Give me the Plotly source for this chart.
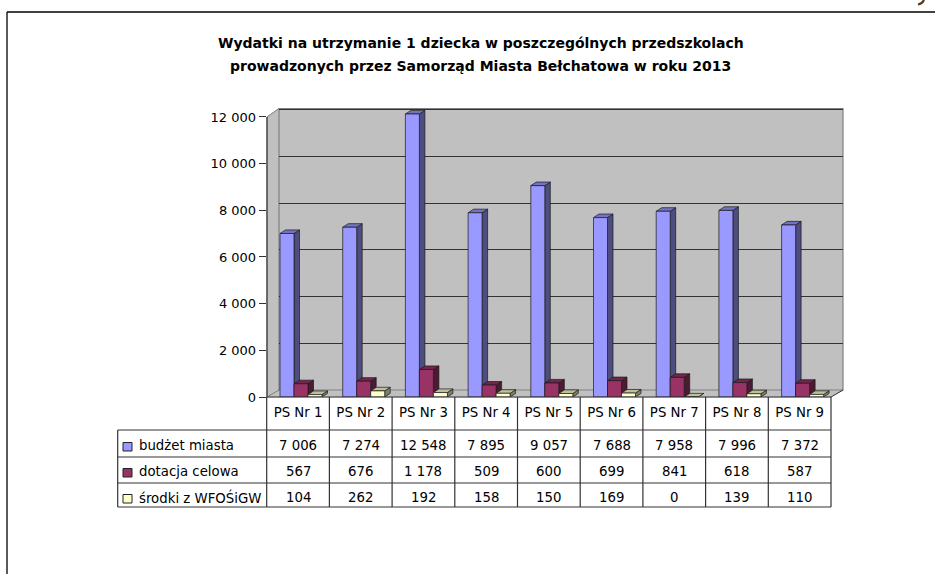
import plotly.graph_objects as go

W, H = 935, 574
categories = ["PS Nr 1", "PS Nr 2", "PS Nr 3", "PS Nr 4", "PS Nr 5", "PS Nr 6", "PS Nr 7", "PS Nr 8", "PS Nr 9"]
budzet = [7006, 7274, 12548, 7895, 9057, 7688, 7958, 7996, 7372]
dotacja = [567, 676, 1178, 509, 600, 699, 841, 618, 587]
srodki = [104, 262, 192, 158, 150, 169, 0, 139, 110]
series_names = ["budżet miasta", "dotacja celowa", "środki z WFOŚiGW"]
tick_values = [0, 2000, 4000, 6000, 8000, 10000, 12000]
title_lines = ["Wydatki na utrzymanie 1 dziecka w poszczególnych przedszkolach",
               "prowadzonych przez Samorząd Miasta Bełchatowa w roku 2013"]

FONT = "DejaVu Sans"
series = [budzet, dotacja, srodki]
front = ["#9999ff", "#993366", "#ffffcc"]
side = ["#4d4d80", "#4d1a33", "#808066"]
top = ["#7373bf", "#73264d", "#bfbf99"]

def X(p): return p / W
def Y(p): return 1 - p / H

L, R, B, T = 266.7, 831.0, 397.0, 108.0
PX_PER_UNIT = 46.67 / 2000
YMAX = (B - T) / PX_PER_UNIT
CLIP = (B - 114) / PX_PER_UNIT
CATW = (R - L) / 9
BW = 14.0 / CATW
OFF0 = (280 - (L + CATW / 2)) / CATW
DX = 5.5 / CATW
DY = 3.6 / PX_PER_UNIT

def fmt(v):
    return f"{v:,}".replace(",", " ")

shapes = []
def poly(pts, fill, line=None, lw=1, layer="below"):
    d = "M" + " L".join(f"{X(a):.5f},{Y(b):.5f}" for a, b in pts) + " Z"
    shapes.append(dict(type="path", path=d, xref="paper", yref="paper", fillcolor=fill,
                       line=dict(color=line or fill, width=lw), layer=layer))
def seg(x0, y0, x1, y1, color="#333333", w=1.2, layer="above"):
    shapes.append(dict(type="line", x0=X(x0), x1=X(x1), y0=Y(y0), y1=Y(y1), xref="paper", yref="paper",
                       line=dict(color=color, width=w), layer=layer))

poly([(267, 117), (279, 108.5), (279, 390), (267, 397)], "#c0c0c0")
poly([(267, 397), (279, 390), (843, 390), (831, 397)], "#c0c0c0")
poly([(279, 108.5), (843, 108.5), (843, 390), (279, 390)], "#c0c0c0", "#808080", 1.2)
seg(267, 117, 279, 108.5, "#808080", 1)
seg(267, 117, 267, 397, "#333333", 1.3)
seg(831, 397, 843, 390, "#333333", 1)
seg(267, 397, 279, 390, "#808080", 1)

for s, vals in enumerate(series):
    for i, v in enumerate(vals):
        h = min(v, CLIP)
        x0 = i + OFF0 + s * BW
        x1 = x0 + BW
        shapes.append(dict(type="path", xref="x2", yref="y2", layer="between", fillcolor=side[s],
                           line=dict(color="#1a1a1a", width=0.7),
                           path=f"M{x1},0 L{x1+DX},{DY} L{x1+DX},{h+DY} L{x1},{h} Z"))
        shapes.append(dict(type="path", xref="x2", yref="y2", layer="between", fillcolor=top[s],
                           line=dict(color="#1a1a1a", width=0.7),
                           path=f"M{x0},{h} L{x0+DX},{h+DY} L{x1+DX},{h+DY} L{x1},{h} Z"))

TL, RH = 117.7, [397, 430, 457, 483, 507]
for yy in RH[1:]:
    seg(TL, yy, R, yy)
seg(L, 397, R, 397)
seg(TL, 430, TL, 507)
for i in range(10):
    seg(L + i * CATW, 397, L + i * CATW, 507)

seg(7, 12, W, 12, "#000000", 1.3)
seg(7, 12, 7, H, "#000000", 1.3)
shapes.append(dict(type="path", path=f"M{X(918)},{Y(4.5)} Q{X(922)},{Y(4)} {X(924)},{Y(0)}", xref="paper", yref="paper",
                   line=dict(color="#5a3a1e", width=2.2), layer="above"))

anns = []
def text(x, y, s, size=13.3, bold=False, anchor="center", color="#000000", xref="paper"):
    anns.append(dict(x=x, y=Y(y), xref=xref, yref="paper", text=f"<b>{s}</b>" if bold else s, showarrow=False,
                     xanchor=anchor, yanchor="middle", font=dict(family=FONT, size=size, color=color)))

text(X(481), 43, title_lines[0], 14, True)
text(X(481), 66, title_lines[1], 14, True)

row_y = [445, 471, 497]
for s, vals in enumerate(series):
    shapes.append(dict(type="rect", x0=X(123), x1=X(132), y0=Y(row_y[s] - 2.5), y1=Y(row_y[s] + 6),
                       xref="paper", yref="paper", fillcolor=front[s], line=dict(color="#222222", width=1), layer="above"))
    text(X(137), row_y[s], series_names[s], 13.3, anchor="left")
    for i, v in enumerate(vals):
        text(i, row_y[s], fmt(v), 13.3, xref="x2")

fig = go.Figure()
fig.add_trace(go.Scatter(x=[0], y=[0], xaxis="x", yaxis="y", mode="markers", marker=dict(opacity=0),
                         showlegend=False, hoverinfo="skip"))
for s, vals in enumerate(series):
    fig.add_trace(go.Bar(x=list(range(9)), y=[min(v, CLIP) for v in vals], xaxis="x2", yaxis="y2", name=series_names[s],
                         width=BW, offset=OFF0 + s * BW, marker=dict(color=front[s], line=dict(color="#1a1a1a", width=0.7)),
                         showlegend=False, cliponaxis=True))

fig.update_layout(
    width=W, height=H, autosize=False, margin=dict(l=0, r=0, t=0, b=0, autoexpand=False), paper_bgcolor="white", plot_bgcolor="rgba(0,0,0,0)",
    showlegend=False, barmode="overlay", shapes=shapes, annotations=anns,
    font=dict(family=FONT, color="#000000"),
    xaxis=dict(domain=[X(279), X(843)], range=[0, 1], visible=False, fixedrange=True, automargin=False),
    yaxis=dict(domain=[Y(390), Y(108.5)], range=[0, (390 - 108.5) / PX_PER_UNIT], tickvals=tick_values, showgrid=True, automargin=False,
               gridcolor="#333333", gridwidth=1.1, showticklabels=False, ticks="", showline=False, zeroline=False, fixedrange=True),
    xaxis2=dict(domain=[X(L), X(R)], range=[-0.5, 8.5], tickvals=list(range(9)), ticktext=categories, ticks="", showgrid=False, automargin=False,
                zeroline=False, showline=False, anchor="y2", tickfont=dict(family=FONT, size=13.3), fixedrange=True, ticklabelstandoff=6),
    yaxis2=dict(domain=[Y(B), Y(T)], range=[0, YMAX], tickvals=tick_values, ticktext=[fmt(v) for v in tick_values], ticks="outside", automargin=False,
                ticklen=7, tickcolor="#333333", tickwidth=1.2, showgrid=False, zeroline=False, showline=False, anchor="x2",
                tickfont=dict(family=FONT, size=13), fixedrange=True),
)
post = "document.body.style.margin='0';document.body.style.overflow='hidden';"
fig.write_html("out.html", post_script=post, config=dict(displayModeBar=False))
